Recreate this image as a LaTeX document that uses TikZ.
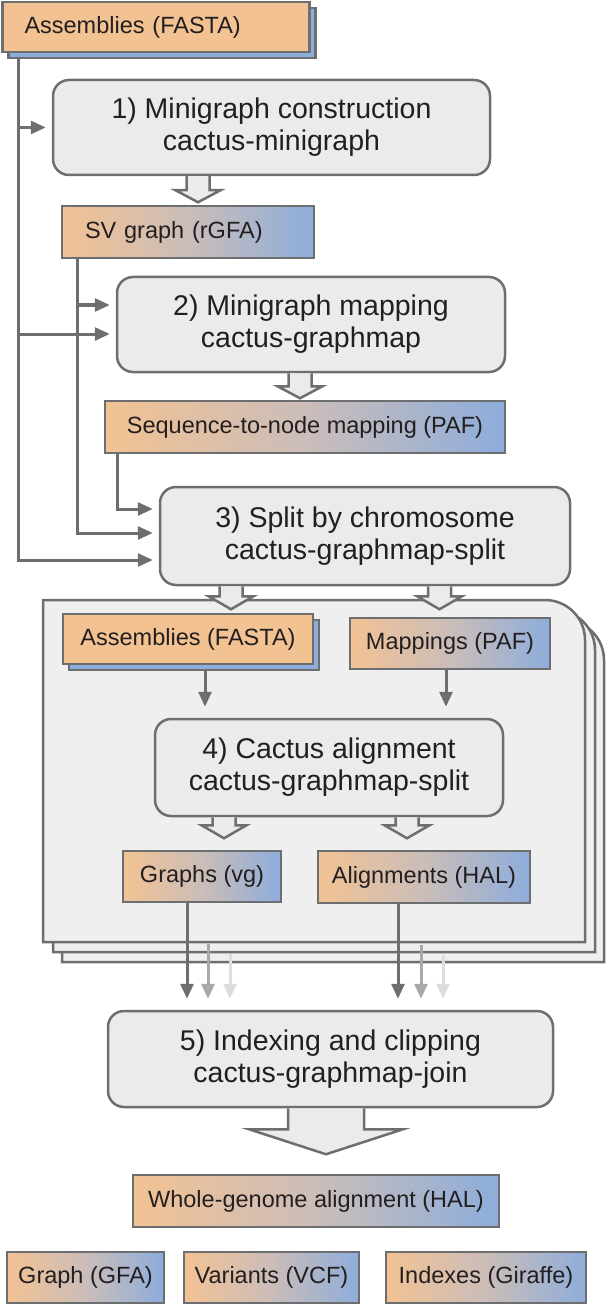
\documentclass[tikz,border=0pt]{standalone}
\usepackage{fontspec}
\setmainfont{Liberation Sans}
\usetikzlibrary{arrows.meta,shadows}
\definecolor{edge}{HTML}{6D6E70}
\definecolor{ink}{HTML}{231F20}
\definecolor{peach}{HTML}{F2C293}
\definecolor{sky}{HTML}{8DADDB}
\definecolor{mauve}{HTML}{CBBDB9}
\definecolor{stepfill}{HTML}{EAEBEB}
\definecolor{panelfill}{HTML}{EFEFEF}
\definecolor{ghost}{HTML}{A7A9AC}
\definecolor{faint}{HTML}{DCDDDE}
\newcommand{\hollowarrow}[5]{\draw[hollow] #1 ++(-#2,0) -- ++(0,#4) -- ++({#2-#3},0) -- ++(#3,#5) -- ++(#3,-#5) -- ++({#2-#3},0) -- ++(0,-#4);}

\begin{document}
\begin{tikzpicture}[x=1pt,y=-1pt,>={Triangle[length=15pt,width=13pt]}]
\tikzset{stepbox/.style={draw=edge,line width=2.5pt,rounded corners=16pt,fill=stepfill,text=ink,align=center,font=\fontsize{28.5}{32}\selectfont},
  box/.style={draw=edge,line width=2.5pt,text=ink,minimum height=51pt,inner sep=0pt,font=\fontsize{23.5}{27}\selectfont},
  data/.style={box,left color=peach,right color=sky,middle color=mauve},
  fasta/.style={box,fill=peach,copy shadow={shadow xshift=6pt,shadow yshift=-6pt,fill=sky,draw=edge,line width=2.5pt}},
  feed/.style={->,draw=edge,line width=3pt,shorten >=6pt},
  hollow/.style={draw=edge,line width=2.5pt,fill=stepfill},
  panel/.style={draw=edge,line width=2.5pt,fill=panelfill}}
\useasboundingbox (0,0) rectangle (606,1305);
\foreach \dx/\dy in {19/20,10/10,0/0}
  \draw[panel] ({43+\dx},{942+\dy}) -- ({43+\dx},{600+\dy}) [rounded corners=40pt]-- ({585+\dx},{600+\dy}) [sharp corners]-- ({585+\dx},{942+\dy}) -- cycle;
\node[fasta,minimum width=307pt,minimum height=50pt,text width=263pt,align=left] (asm) at (156,27) {Assemblies (FASTA)};
\node[stepbox,minimum width=437pt,minimum height=95pt] (step1) at (271.5,127.5) {1) Minigraph construction\\cactus-minigraph};
\node[data,minimum width=252pt,minimum height=52pt,text width=206pt,align=left] (sv) at (188,232) {SV graph (rGFA)};
\node[stepbox,minimum width=388pt,minimum height=95pt] (step2) at (311,324.5) {2) Minigraph mapping\\cactus-graphmap};
\node[data,minimum width=400pt,minimum height=52pt] (seq) at (305,427) {Sequence-to-node mapping (PAF)};
\node[stepbox,minimum width=410pt,minimum height=98pt] (step3) at (365,536) {3) Split by chromosome\\cactus-graphmap-split};
\node[fasta,minimum width=250pt,minimum height=50pt] (asm2) at (188,639) {Assemblies (FASTA)};
\node[data,minimum width=200pt] (maps) at (450,643.5) {Mappings (PAF)};
\node[stepbox,minimum width=348pt,minimum height=97pt] (step4) at (329,767.5) {4) Cactus alignment\\cactus-graphmap-split};
\node[data,minimum width=158pt] (graphs) at (202,876.5) {Graphs (vg)};
\node[data,minimum width=212pt,minimum height=52pt] (aligns) at (424,877) {Alignments (HAL)};
\node[stepbox,minimum width=445pt,minimum height=96pt] (step5) at (330.5,1059) {5) Indexing and clipping\\cactus-graphmap-join};
\node[data,minimum width=366pt,minimum height=52pt] (wga) at (316,1201) {Whole-genome alignment (HAL)};
\node[data,minimum width=157pt] (gfa) at (85.5,1277.5) {Graph (GFA)};
\node[data,minimum width=175pt] (vcf) at (271.5,1277.5) {Variants (VCF)};
\node[data,minimum width=200pt] (giraffe) at (486,1277.5) {Indexes (Giraffe)};
\draw[feed] ([xshift=17.5pt,yshift=-6pt]asm.south west) coordinate (tA) |- ([yshift=-24pt]step3.west);
\draw[feed] (tA |- step1.west) -- (step1.west);
\path ([yshift=-9.5pt]step2.west) coordinate (s2low) ([yshift=19.5pt]step2.west) coordinate (s2high);
\draw[feed] (tA |- s2low) -- (s2low);
\draw[feed] ([xshift=17pt]sv.south west) coordinate (tB) |- ([yshift=3pt]step3.west);
\draw[feed] (tB |- s2high) -- (s2high);
\draw[feed] ([xshift=14pt]seq.south west) |- ([yshift=27pt]step3.west);
\draw[feed,shorten >=11pt] ([xshift=17pt,yshift=-6pt]asm2.south) coordinate (a2) -- (a2 |- step4.north);
\draw[feed,shorten >=11pt] ([xshift=-4pt]maps.south) coordinate (m2) -- (m2 |- step4.north);
\draw[feed,shorten >=11pt] ([xshift=-15pt]graphs.south) coordinate (g1) -- (g1 |- step5.north);
\draw[feed,draw=ghost,shorten >=11pt] ([xshift=6pt,yshift=-41pt]graphs.south) coordinate (g2) -- (g2 |- step5.north);
\draw[feed,draw=faint,shorten >=11pt] ([xshift=28pt,yshift=-51pt]graphs.south) coordinate (g3) -- (g3 |- step5.north);
\draw[feed,shorten >=11pt] ([xshift=-26pt]aligns.south) coordinate (h1) -- (h1 |- step5.north);
\draw[feed,draw=ghost,shorten >=11pt] ([xshift=-3pt,yshift=-41pt]aligns.south) coordinate (h2) -- (h2 |- step5.north);
\draw[feed,draw=faint,shorten >=11pt] ([xshift=19pt,yshift=-51pt]aligns.south) coordinate (h3) -- (h3 |- step5.north);
\hollowarrow{([xshift=-73.5pt]step1.south)}{11.5}{22.5}{14}{12}
\hollowarrow{([xshift=-11pt]step2.south)}{11.5}{22.5}{13}{12}
\hollowarrow{([xshift=-134pt]step3.south)}{11.5}{22.5}{10}{13}
\hollowarrow{([xshift=74.5pt]step3.south)}{11.5}{22.5}{10}{13}
\hollowarrow{([xshift=-105pt]step4.south)}{11.5}{22.5}{8}{13}
\hollowarrow{([xshift=78pt]step4.south)}{11.5}{22.5}{8}{13}
\hollowarrow{([xshift=-4.5pt]step5.south)}{38}{77}{21}{25}
\end{tikzpicture}
\end{document}
